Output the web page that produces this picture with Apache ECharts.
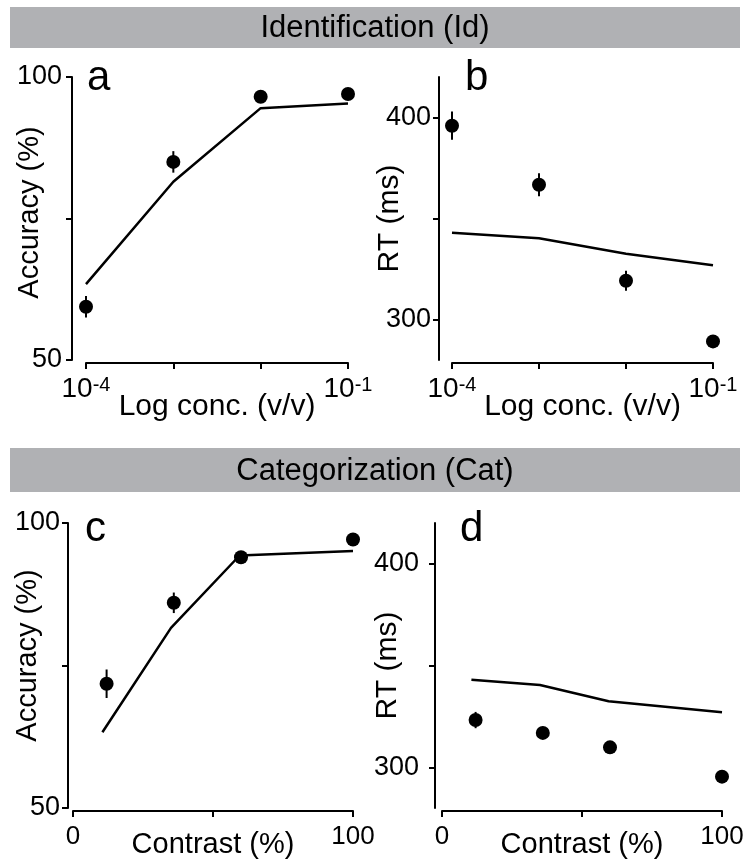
<!DOCTYPE html>
<html>
<head>
<meta charset="utf-8">
<script src="https://cdn.jsdelivr.net/npm/echarts@6/dist/echarts.min.js"></script>
<style>
  html, body { margin: 0; padding: 0; background: #fff; }
  #chart { width: 747px; height: 861px; }
</style>
</head>
<body>
<div id="chart"></div>
<script>
// Odor identification: log10 of concentration (v/v)
const concExp = [-4, -3, -2, -1];
const idAccuracy = [59.4, 85.0, 96.5, 97.0];
const idAccuracyErr = [1.9, 1.9, 0.8, 0.6];
const idAccuracyModel = [63.4, 81.5, 94.5, 95.3];
const idRT = [395.9, 366.7, 319.2, 289.2];
const idRTErr = [7.0, 5.7, 4.9, 3.0];
const idRTModel = [343.0, 340.2, 332.6, 326.9];

// Categorization: stimulus contrast (%)
const contrast = [12, 36, 60, 100];
const modelContrast = [10.5, 35, 59.5, 100];
const catAccuracy = [71.8, 86.0, 94.0, 97.1];
const catAccuracyErr = [2.5, 1.8, 0.8, 0.6];
const catAccuracyModel = [63.3, 81.6, 94.3, 95.1];
const catRT = [323.2, 316.9, 309.8, 295.4];
const catRTErr = [4.0, 3.0, 2.5, 2.0];
const catRTModel = [343.0, 340.4, 332.4, 327.0];

// Axis ticks and labels
const accuracyTicks = [50, 75, 100];
const accuracyLabels = [50, 100];
const rtTicks = [300, 350, 400];
const rtLabels = [300, 400];
const concLabels = [-4, -1];
const contrastLabels = [0, 100];

const FONT = '"Liberation Sans", Arial, Helvetica, sans-serif';
const INK = '#000';

const zip = (xs, ys) => xs.map((x, i) => [x, ys[i]]);
const zip3 = (xs, ys, es) => xs.map((x, i) => [x, ys[i], es[i]]);

function xAxisLog(grid, nameGap) {
  return {
    gridIndex: grid, type: 'value', min: -4, max: -1, interval: 1, offset: 3,
    axisLine: { show: true, onZero: false, lineStyle: { color: INK, width: 2 } },
    axisTick: { show: true, length: 6, lineStyle: { color: INK, width: 2 } },
    splitLine: { show: false },
    axisLabel: {
      margin: 12,
      formatter: v => concLabels.includes(v) ? '{b|10}{s|' + v + '}' : '',
      rich: {
        b: { fontSize: 28, fontFamily: FONT, color: INK, lineHeight: 28 },
        s: { fontSize: 20, fontFamily: FONT, color: INK, lineHeight: 20, verticalAlign: 'top' }
      }
    },
    name: 'Log conc. (v/v)', nameLocation: 'middle', nameGap: nameGap, nameMoveOverlap: false,
    nameTextStyle: { fontSize: 30, fontFamily: FONT, color: INK }
  };
}

function xAxisContrast(grid, nameGap) {
  return {
    gridIndex: grid, type: 'value', min: 0, max: 100, interval: 50, offset: 3,
    axisLine: { show: true, onZero: false, lineStyle: { color: INK, width: 2 } },
    axisTick: { show: true, length: 6, lineStyle: { color: INK, width: 2 } },
    splitLine: { show: false },
    axisLabel: {
      margin: 13, fontSize: 26, fontFamily: FONT, color: INK,
      formatter: v => contrastLabels.includes(v) ? String(v) : ''
    },
    name: 'Contrast (%)', nameLocation: 'middle', nameGap: nameGap, nameMoveOverlap: false,
    nameTextStyle: { fontSize: 29, fontFamily: FONT, color: INK }
  };
}

function yAxisAcc(grid, offset, margin, nameGap, lift) {
  return {
    gridIndex: grid, type: 'value', min: 50, max: 100, offset: offset,
    axisLine: { show: true, onZero: false, lineStyle: { color: INK, width: 2 } },
    axisTick: { show: true, length: 6, customValues: accuracyTicks, lineStyle: { color: INK, width: 2 } },
    splitLine: { show: false },
    axisLabel: { margin: margin, fontSize: 27, fontFamily: FONT, color: INK, customValues: accuracyLabels },
    name: 'Accuracy (%)', nameLocation: 'middle', nameGap: nameGap, nameRotate: 90, nameMoveOverlap: false,
    nameTextStyle: { fontSize: 29, fontFamily: FONT, color: INK, padding: [0, 0, 0, lift] }
  };
}

function yAxisRT(grid, offset, margin, nameGap) {
  return {
    gridIndex: grid, type: 'value', min: 280, max: 420, offset: offset,
    axisLine: { show: true, onZero: false, lineStyle: { color: INK, width: 2 } },
    axisTick: { show: true, length: 6, customValues: rtTicks, lineStyle: { color: INK, width: 2 } },
    splitLine: { show: false },
    axisLabel: { margin: margin, fontSize: 27, fontFamily: FONT, color: INK, customValues: rtLabels },
    name: 'RT (ms)', nameLocation: 'middle', nameGap: nameGap, nameRotate: 90, nameMoveOverlap: false,
    nameTextStyle: { fontSize: 30, fontFamily: FONT, color: INK }
  };
}

function errorBars(idx, data) {
  return {
    type: 'custom', xAxisIndex: idx, yAxisIndex: idx, z: 3,
    data: data,
    renderItem: (params, api) => {
      const x = api.value(0), y = api.value(1), e = api.value(2);
      const p1 = api.coord([x, y - e]);
      const p2 = api.coord([x, y + e]);
      return {
        type: 'line',
        shape: { x1: p1[0], y1: p1[1], x2: p2[0], y2: p2[1] },
        style: { stroke: INK, lineWidth: 2 }
      };
    }
  };
}

function modelLine(idx, data) {
  return {
    type: 'line', xAxisIndex: idx, yAxisIndex: idx, data: data, z: 2,
    symbol: 'none', lineStyle: { color: INK, width: 2.5 }
  };
}

function dots(idx, data) {
  return {
    type: 'scatter', xAxisIndex: idx, yAxisIndex: idx, data: data, z: 4,
    symbol: 'circle', symbolSize: 14, itemStyle: { color: INK, opacity: 1 }
  };
}

function header(y, h, label) {
  return [
    { type: 'rect', shape: { x: 10, y: y, width: 730, height: h }, style: { fill: '#b0b1b4' }, z: 0 },
    { type: 'text', x: 375, y: y + h / 2 + 1, z: 1,
      style: { text: label, font: '31px ' + FONT, fill: INK, textAlign: 'center', textVerticalAlign: 'middle' } }
  ];
}

function panelLetter(x, y, letter) {
  return { type: 'text', x: x, y: y, z: 5,
    style: { text: letter, font: '42px ' + FONT, fill: INK, textAlign: 'left', textVerticalAlign: 'middle' } };
}

const chart = echarts.init(document.getElementById('chart'), null, { renderer: 'canvas' });

// Each panel's plotting area is placed explicitly; axes sit slightly apart from it.
const gridBase = { containLabel: false, outerBoundsMode: 'none' };

chart.setOption({
  animation: false,
  backgroundColor: '#fff',
  grid: [
    Object.assign({ left: 86, top: 77, width: 262, height: 283 }, gridBase),
    Object.assign({ left: 452, top: 77, width: 261, height: 283 }, gridBase),
    Object.assign({ left: 73, top: 523, width: 280, height: 285 }, gridBase),
    Object.assign({ left: 442, top: 523, width: 280, height: 285 }, gridBase)
  ],
  xAxis: [
    xAxisLog(0, 29),
    xAxisLog(1, 29),
    xAxisContrast(2, 19),
    xAxisContrast(3, 19)
  ],
  yAxis: [
    yAxisAcc(0, 14, 10, 28, 12),
    yAxisRT(1, 13, 8, 34),
    yAxisAcc(2, 5, 8, 26, 20),
    yAxisRT(3, 7, 16, 32)
  ],
  series: [
    modelLine(0, zip(concExp, idAccuracyModel)),
    errorBars(0, zip3(concExp, idAccuracy, idAccuracyErr)),
    dots(0, zip(concExp, idAccuracy)),

    modelLine(1, zip(concExp, idRTModel)),
    errorBars(1, zip3(concExp, idRT, idRTErr)),
    dots(1, zip(concExp, idRT)),

    modelLine(2, zip(modelContrast, catAccuracyModel)),
    errorBars(2, zip3(contrast, catAccuracy, catAccuracyErr)),
    dots(2, zip(contrast, catAccuracy)),

    modelLine(3, zip(modelContrast, catRTModel)),
    errorBars(3, zip3(contrast, catRT, catRTErr)),
    dots(3, zip(contrast, catRT))
  ],
  graphic: [
    ...header(7, 41, 'Identification (Id)'),
    ...header(448, 44, 'Categorization (Cat)'),
    panelLetter(87, 78, 'a'),
    panelLetter(465, 78, 'b'),
    panelLetter(85, 529, 'c'),
    panelLetter(460, 529, 'd')
  ]
});
</script>
</body>
</html>
